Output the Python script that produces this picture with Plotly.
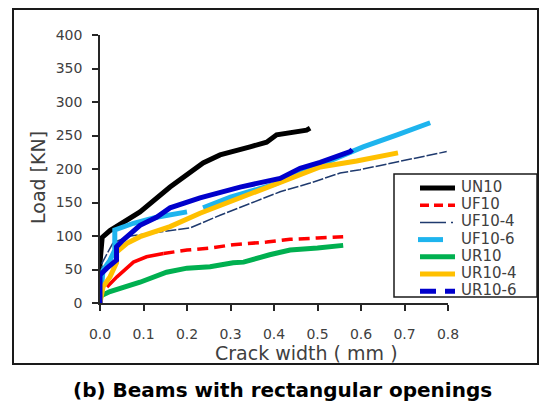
import plotly.graph_objects as go

# ---------------- data ----------------
UN10_x = [0, 0, 0.005, 0.023, 0.092, 0.161, 0.237, 0.276, 0.345, 0.383, 0.406, 0.44, 0.475, 0.483]
UN10_y = [0, 60, 98, 108, 136, 173, 209, 221, 233, 240, 251, 255, 258, 261]

UF10_x = [0.016, 0.039, 0.077, 0.107, 0.146, 0.2, 0.253, 0.306, 0.383, 0.437, 0.5, 0.559]
UF10_y = [24, 39, 61, 69, 74, 79, 82, 87, 91, 95, 97, 99]

UF10_4_x = [0, 0.005, 0.03, 0.07, 0.138, 0.207, 0.276, 0.345, 0.414, 0.483, 0.552, 0.598, 0.683, 0.797]
UF10_4_y = [0, 60, 90, 100, 106, 112, 131, 149, 166, 179, 194, 199, 211, 226]

UF10_6_x = [0, 0.007, 0.023, 0.034, 0.034, 0.077, 0.13, 0.2, None, 0.237, 0.3, 0.4, 0.5, 0.58, 0.605, 0.683, 0.759]
UF10_6_y = [0, 49, 64, 79, 109, 119, 128, 136, None, 142, 158, 177, 205, 228, 233, 251, 269]

UR10_x = [0, 0.023, 0.092, 0.153, 0.2, 0.253, 0.306, 0.33, 0.39, 0.437, 0.5, 0.559]
UR10_y = [10, 17, 31, 46, 52, 54, 60, 61, 72, 79, 82, 86]

UR10_4_x = [0, 0.007, 0.023, 0.038, 0.038, 0.062, 0.092, 0.161, 0.23, 0.322, 0.414, 0.46, 0.506, 0.59, 0.685]
UR10_4_y = [0, 24, 39, 60, 76, 89, 99, 114, 134, 157, 179, 192, 203, 212, 224]

UR10_6_x = [0, 0, 0.016, 0.038, 0.038, 0.053, 0.092, 0.13, 0.161, 0.23, 0.322, 0.414, 0.46, 0.506, 0.575, 0.58]
UR10_6_y = [0, 42, 52, 64, 84, 94, 116, 128, 142, 157, 173, 186, 201, 210, 226, 229]

x_ticks = [0.0, 0.1, 0.2, 0.3, 0.4, 0.5, 0.6, 0.7, 0.8]
y_ticks = [0, 50, 100, 150, 200, 250, 300, 350, 400]

names = ["UN10", "UF10", "UF10-4", "UF10-6", "UR10", "UR10-4", "UR10-6"]
colors = ["#000000", "#FF0000", "#1F3A6E", "#1EB4EE", "#00B050", "#FFC000", "#0000CC"]
widths = [5, 3.5, 1.5, 5, 5, 5, 5]
legend_dash = ["solid", "9px,5px", "26px,5px,2px,5px", "solid", "solid", "solid", "16px,9px"]

W, H = 539, 417
L, R, T, B = 100, 91, 35, 114
PW, PH = W - L - R, H - T - B

def px2x(px):
    return (px - L) / PW

def py2y(py):
    return (H - B - py) / PH

fig = go.Figure()

split = 4
series = [
    (UN10_x, UN10_y, None),
    (UF10_x[:split + 1], UF10_y[:split + 1], "solid"),
    (UF10_x[split:], UF10_y[split:], "11px,6px"),
    (UF10_4_x, UF10_4_y, "11px,2px"),
    (UF10_6_x, UF10_6_y, None),
    (UR10_x, UR10_y, None),
    (UR10_4_x, UR10_4_y, None),
    (UR10_6_x, UR10_6_y, None),
]
idx_map = [0, 1, 1, 2, 3, 4, 5, 6]
for (xs, ys, dash), i in zip(series, idx_map):
    fig.add_trace(go.Scatter(
        x=xs, y=ys, mode="lines", name=names[i], showlegend=False,
        line=dict(color=colors[i], width=widths[i], dash=dash or "solid"),
        connectgaps=False,
    ))

shapes = []
annotations = []
# outer frame
shapes.append(dict(type="rect", xref="paper", yref="paper",
                   x0=px2x(13), x1=px2x(538), y0=py2y(364), y1=py2y(9),
                   line=dict(color="#1a1a1a", width=2), layer="below"))
# legend box
shapes.append(dict(type="rect", xref="paper", yref="paper",
                   x0=px2x(394), x1=px2x(537), y0=py2y(297), y1=py2y(174),
                   line=dict(color="#1a1a1a", width=1.5), fillcolor="white", layer="above"))
for k, nm in enumerate(names):
    yc = 188 + 17.2 * k
    x0, x1 = 420, 455
    if nm == "UF10-6":
        x0, x1 = 418, 443
    shapes.append(dict(type="line", xref="paper", yref="paper",
                       x0=px2x(x0), x1=px2x(x1), y0=py2y(yc), y1=py2y(yc),
                       line=dict(color=colors[k], width=widths[k], dash=legend_dash[k]),
                       layer="above"))
    annotations.append(dict(xref="paper", yref="paper", x=px2x(459), y=py2y(yc - 1),
                            text=nm, showarrow=False, xanchor="left", yanchor="middle",
                            font=dict(family="DejaVu Sans", size=15, color="#404040")))

annotations.append(dict(xref="paper", yref="paper", x=px2x(306), y=py2y(353),
                        text="Crack width ( mm )", showarrow=False,
                        xanchor="center", yanchor="middle",
                        font=dict(family="DejaVu Sans", size=19, color="#404040")))
annotations.append(dict(xref="paper", yref="paper", x=px2x(38), y=py2y(178),
                        text="Load [KN]", showarrow=False, textangle=-90,
                        xanchor="center", yanchor="middle",
                        font=dict(family="DejaVu Sans", size=19, color="#404040")))
annotations.append(dict(xref="paper", yref="paper", x=px2x(282), y=py2y(390),
                        text="<b>(b) Beams with rectangular openings</b>", showarrow=False,
                        xanchor="center", yanchor="middle",
                        font=dict(family="DejaVu Sans", size=20, color="#000000")))

axis_font = dict(family="DejaVu Sans", size=14, color="#404040")
fig.update_layout(
    width=W, height=H,
    margin=dict(l=L, r=R, t=T, b=B, pad=0),
    paper_bgcolor="white", plot_bgcolor="white",
    showlegend=False,
    shapes=shapes, annotations=annotations,
    xaxis=dict(range=[0, 0.8], tickvals=x_ticks, ticktext=[f"{v:.1f}" for v in x_ticks],
               showgrid=False, zeroline=False, showline=True, linecolor="#262626", linewidth=1.5,
               ticks="outside", ticklen=6, tickwidth=1.5, tickcolor="#262626",
               tickfont=axis_font, ticklabelstandoff=11),
    yaxis=dict(range=[0, 400], tickvals=y_ticks,
               showgrid=False, zeroline=False, showline=True, linecolor="#262626", linewidth=1.5,
               ticks="outside", ticklen=6, tickwidth=1.5, tickcolor="#262626",
               tickfont=axis_font, ticklabelstandoff=7),
)

fig.write_html("out.html")
